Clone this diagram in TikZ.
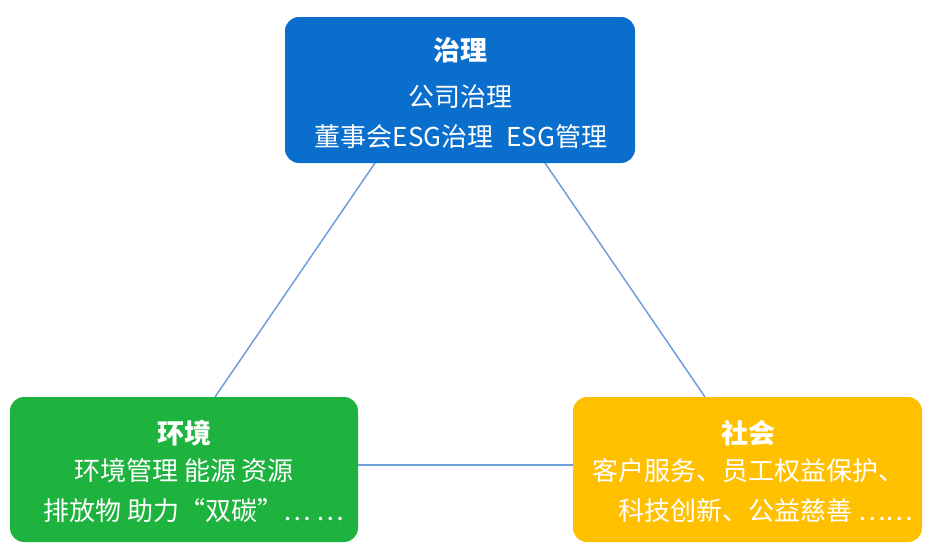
\documentclass[tikz,border=0pt]{standalone}
\usepackage{fontspec}
\setmainfont{Noto Sans CJK SC}
\begin{document}
\begin{tikzpicture}[x=1pt,y=-1pt,
  box/.style={rounded corners=14pt,draw=none},
  txt/.style={text=white,inner sep=0pt,font=\fontsize{26}{30}\selectfont},
  ttl/.style={text=white,inner sep=0pt,font=\fontsize{27}{31}\selectfont\bfseries},
  conn/.style={draw={rgb,255:red,110;green,160;blue,215},line width=1.5pt}]
\useasboundingbox (0,0) rectangle (929,557);
\definecolor{cb}{RGB}{10,110,205}
\definecolor{cg}{RGB}{30,178,62}
\definecolor{cy}{RGB}{255,192,0}
\coordinate (t1) at (375,163);
\coordinate (t2) at (545,163);
\coordinate (l1) at (215,397);
\coordinate (l2) at (358,465);
\coordinate (r1) at (705,397);
\coordinate (r2) at (573,465);
\draw[conn] (t1) -- (l1);
\draw[conn] (t2) -- (r1);
\draw[conn] (l2) -- (r2);
\fill[box,cb] (285,17) rectangle (635,163);
\fill[box,cg] (10,397) rectangle (358,542);
\fill[box,cy] (573,397) rectangle (922,542);
\node[ttl] (a) at (460,50) {治理};
\node[txt] (a1) at (460,97) {公司治理};
\node[txt] (a2) at (461,137) {董事会ESG治理\enspace ESG管理};
\node[ttl] (b) at (184,433) {环境};
\node[txt] (b1) at (184,471) {环境管理 能源 资源};
\node[txt] (b2) at (194,511) {排放物 助力“双碳”… …};
\node[ttl] (c) at (748,433) {社会};
\node[txt] (c1) at (748,471) {客户服务、员工权益保护、};
\node[txt] (c2) at (766,511) {科技创新、公益慈善 ……};
\end{tikzpicture}
\end{document}
